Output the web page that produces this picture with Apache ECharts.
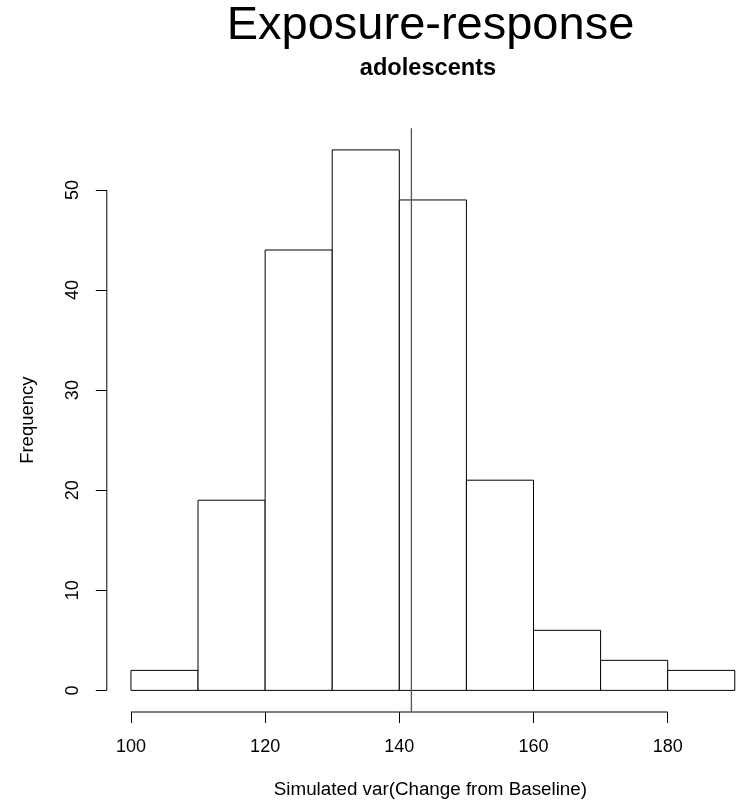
<!DOCTYPE html>
<html>
<head>
<meta charset="utf-8">
<script src="https://cdn.jsdelivr.net/npm/echarts@6/dist/echarts.min.js"></script>
<style>
html,body{margin:0;padding:0;background:#fff;}
#chart{width:738px;height:804px;}
</style>
</head>
<body>
<div id="chart"></div>
<script>
// Data
const breaks = [100, 110, 120, 130, 140, 150, 160, 170, 180, 190];
const counts = [2, 19, 44, 54, 49, 21, 6, 3, 2];
const refValue = 141.8;
const xTicks = [100, 120, 140, 160, 180];
const yTicks = [0, 10, 20, 30, 40, 50];
const mainTitle = 'Exposure-response';
const subTitle = 'adolescents';
const xLabel = 'Simulated var(Change from Baseline)';
const yLabel = 'Frequency';

// visible axis ranges (R style extension; right side cut by the page edge)
const xMin = 96.4, xMax = 190.48;
const yMin = -2.16, yMax = 56.16;

const bins = counts.map((c, i) => [breaks[i], breaks[i + 1], c]);

const FONT = 'Liberation Sans, Arial, Helvetica, sans-serif';
const chart = echarts.init(document.getElementById('chart'), null, {renderer: 'canvas'});

chart.setOption({
  animation: false,
  backgroundColor: '#fff',
  title: [
    {text: mainTitle, left: 430.5, top: 3, textAlign: 'center', padding: 0,
     textStyle: {fontFamily: FONT, fontSize: 47, fontWeight: 'normal', color: '#000'}},
    {text: subTitle, left: 428, top: 56, textAlign: 'center', padding: 0,
     textStyle: {fontFamily: FONT, fontSize: 23.6, fontWeight: 'bold', color: '#000'}}
  ],
  grid: {left: 106.8, right: 0, top: 128.3, bottom: 91.3, containLabel: false},
  xAxis: {
    type: 'value', min: xMin, max: xMax,
    axisLine: {show: false, onZero: false},
    splitLine: {show: false},
    axisTick: {show: true, length: 11, inside: false, customValues: xTicks,
               lineStyle: {color: '#000', width: 1}},
    axisLabel: {show: true, customValues: xTicks, margin: 26,
                fontFamily: FONT, fontSize: 18, color: '#000'},
    name: xLabel, nameLocation: 'middle', nameGap: 68,
    nameTextStyle: {fontFamily: FONT, fontSize: 18.8, color: '#000', padding: [0, 0, 0, 16]}
  },
  yAxis: {
    type: 'value', min: yMin, max: yMax,
    axisLine: {show: false, onZero: false},
    splitLine: {show: false},
    axisTick: {show: true, length: 11, inside: false, customValues: yTicks,
               lineStyle: {color: '#000', width: 1}},
    axisLabel: {show: true, customValues: yTicks, margin: 24.5, rotate: 90,
                fontFamily: FONT, fontSize: 18, color: '#000'},
    name: yLabel, nameLocation: 'middle', nameGap: 69,
    nameTextStyle: {fontFamily: FONT, fontSize: 18.5, color: '#000'}
  },
  series: [
    {
      type: 'custom',
      data: bins,
      clip: false,
      renderItem: function (params, api) {
        const p0 = api.coord([api.value(0), 0]);
        const p1 = api.coord([api.value(1), api.value(2)]);
        return {
          type: 'rect',
          shape: {x: p0[0], y: p1[1], width: p1[0] - p0[0], height: p0[1] - p1[1]},
          style: {fill: '#fff', stroke: '#000', lineWidth: 1}
        };
      },
      silent: true
    },
    {
      type: 'line', data: [[xTicks[0], yMin], [xTicks[xTicks.length - 1], yMin]],
      symbol: 'none', clip: false, silent: true,
      lineStyle: {color: '#000', width: 1}
    },
    {
      type: 'line', data: [[xMin, yTicks[0]], [xMin, yTicks[yTicks.length - 1]]],
      symbol: 'none', clip: false, silent: true,
      lineStyle: {color: '#000', width: 1}
    },
    {
      type: 'line', data: [[refValue, yMin], [refValue, yMax]],
      symbol: 'none', clip: false, silent: true,
      lineStyle: {color: '#555', width: 1.3}
    }
  ]
});
</script>
</body>
</html>
